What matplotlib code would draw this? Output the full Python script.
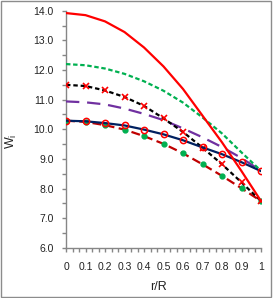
import matplotlib
matplotlib.use("Agg")
import matplotlib.pyplot as plt
from matplotlib.patches import Rectangle
from matplotlib.ticker import MultipleLocator
import numpy as np

plt.rcParams["font.family"] = ["Liberation Sans", "DejaVu Sans"]

# r/R positions
r = [0.0, 0.1, 0.2, 0.3, 0.4, 0.5, 0.6, 0.7, 0.8, 0.9, 1.0]

# W_i curves
red_solid = [13.92, 13.85, 13.64, 13.28, 12.76, 12.12, 11.36, 10.46, 9.56, 8.59, 7.58]
green_dot = [12.20, 12.16, 12.05, 11.87, 11.62, 11.30, 10.90, 10.40, 9.86, 9.22, 8.60]
black_x = [11.50, 11.46, 11.31, 11.09, 10.79, 10.37, 9.91, 9.38, 8.82, 8.21, 7.58]
purple_dash = [10.94, 10.91, 10.84, 10.70, 10.52, 10.31, 10.03, 9.73, 9.40, 9.03, 8.60]
navy_circ = [10.29, 10.27, 10.21, 10.13, 9.99, 9.83, 9.63, 9.39, 9.16, 8.89, 8.59]
darkred_dot = [10.29, 10.25, 10.14, 9.99, 9.77, 9.51, 9.19, 8.82, 8.43, 8.01, 7.58]

x_labels = ["0", "0.1", "0.2", "0.3", "0.4", "0.5", "0.6", "0.7", "0.8", "0.9", "1"]

fig = plt.figure(figsize=(2.73, 2.98), dpi=100)
ax = fig.add_axes([66 / 273, 1 - 247.9 / 298, 195 / 273, 237.2 / 298])

lw = 1.6
ax.plot(r, darkred_dot, color="#C00000", lw=lw, dashes=(4, 2),
        marker="o", ms=3.5, mfc="#00B050", mec="#00B050", zorder=3)
ax.plot(r, navy_circ, color="#002060", lw=lw,
        marker="o", ms=4.5, mfc="none", mec="#FF0000", mew=1.1, zorder=4)
ax.plot(r, purple_dash, color="#7030A0", lw=lw, dashes=(6, 3.5), zorder=3)
ax.plot(r, black_x, color="black", lw=lw, dashes=(2, 1.3),
        marker="x", ms=4, mec="#FF0000", mew=1.2, zorder=3)
ax.plot(r, green_dot, color="#00B050", lw=lw, dashes=(2, 1.2), zorder=3)
ax.plot(r, red_solid, color="#FF0000", lw=lw, zorder=5)

ax.set_xlim(0, 1)
ax.set_ylim(6, 14)
ax.set_xticks(r)
ax.set_xticklabels(x_labels)
ax.xaxis.set_minor_locator(MultipleLocator(0.1 / 3))
ax.yaxis.set_major_locator(MultipleLocator(1))
ax.yaxis.set_minor_locator(MultipleLocator(0.5))
ax.yaxis.set_major_formatter(plt.FormatStrFormatter("%.1f"))

grey = "#868686"
for side in ["top", "right"]:
    ax.spines[side].set_visible(False)
for side in ["left", "bottom"]:
    ax.spines[side].set_color(grey)
    ax.spines[side].set_linewidth(1)

ax.tick_params(axis="both", which="both", direction="out", color=grey,
               length=3, width=1, labelsize=7.5, labelcolor="#222222")
ax.tick_params(axis="y", which="both", pad=6)
ax.tick_params(axis="x", which="both", pad=7)

fig.text(11 / 273, 1 - 141 / 298, "W$_\\mathregular{i}$", rotation=90,
         ha="center", va="center", fontsize=9, color="#222222")
fig.text(158 / 273, 1 - 287 / 298, "r/R", ha="center", va="center",
         fontsize=9, color="#222222")

fig.patches.append(Rectangle((0.003, 0.003), 0.991, 0.993, transform=fig.transFigure,
                             fill=False, ec="#8c8c8c", lw=1))

fig.savefig("out.png", dpi=100)
